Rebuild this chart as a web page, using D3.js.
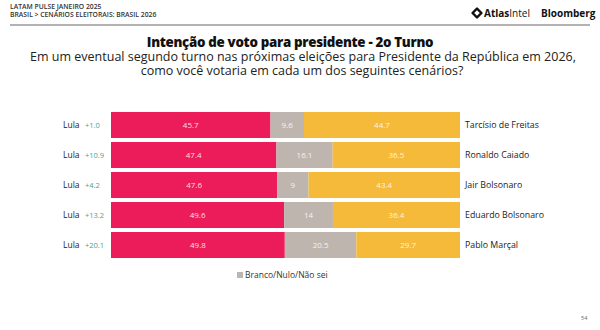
<!DOCTYPE html>
<html>
<head>
<meta charset="utf-8">
<script src="https://cdn.jsdelivr.net/npm/d3@7"></script>
<style>
  body { margin: 0; background: #fff; }
  svg { display: block; font-family: "Open Sans", sans-serif; }
</style>
</head>
<body>
<div id="chart"></div>
<script>
// chart data
const opponents = ['Tarcísio de Freitas', 'Ronaldo Caiado', 'Jair Bolsonaro', 'Eduardo Bolsonaro', 'Pablo Marçal'];
const lulaVotes = [45.7, 47.4, 47.6, 49.6, 49.8];
const blankVotes = [9.6, 16.1, 9, 14, 20.5];
const opponentVotes = [44.7, 36.5, 43.4, 36.4, 29.7];
const leads = ['+1.0', '+10.9', '+4.2', '+13.2', '+20.1'];

const width = 600, height = 330;
const colors = { lula: '#EC1C5B', blank: '#BFB5AF', opp: '#F6BA3B' };

const svg = d3.select('#chart').append('svg')
  .attr('width', width)
  .attr('height', height);

// header
svg.append('text').attr('x', 10).attr('y', 9)
  .style('font-size', '6.8px').style('font-weight', 600).attr('fill', '#333')
  .text('LATAM PULSE JANEIRO 2025');
svg.append('text').attr('x', 10).attr('y', 17)
  .style('font-size', '6.8px').style('font-weight', 600).attr('fill', '#333')
  .text('BRASIL > CENÁRIOS ELEITORAIS: BRASIL 2026');
svg.append('line').attr('x1', 10).attr('x2', 590).attr('y1', 25).attr('y2', 25)
  .attr('stroke', '#666').attr('stroke-width', 1);

// logos
const logo = svg.append('g').attr('transform', 'translate(477,13)');
logo.append('path')
  .attr('d', d3.symbol(d3.symbolSquare, 40)())
  .attr('transform', 'rotate(45)')
  .attr('fill', 'none').attr('stroke', '#111').attr('stroke-width', 2.4)
  .attr('stroke-linejoin', 'round');
logo.append('text').attr('x', 7).attr('y', 3.5)
  .style('font-size', '10px').attr('fill', '#111')
  .html('<tspan font-weight="700">Atlas</tspan><tspan font-weight="400">Intel</tspan>');
svg.append('text').attr('x', 541).attr('y', 16.5)
  .style('font-size', '10px').style('font-weight', 700).attr('fill', '#111')
  .text('Bloomberg');

// titles
svg.append('text').attr('x', 290).attr('y', 47).attr('text-anchor', 'middle')
  .style('font-size', '13.3px').style('font-weight', 800).attr('fill', '#111')
  .style('letter-spacing', '-0.3px')
  .text('Intenção de voto para presidente - 2o Turno');
svg.append('text').attr('x', 303).attr('y', 61).attr('text-anchor', 'middle')
  .style('font-size', '12.5px').attr('fill', '#222')
  .text('Em um eventual segundo turno nas próximas eleições para Presidente da República em 2026,');
svg.append('text').attr('x', 302).attr('y', 75).attr('text-anchor', 'middle')
  .style('font-size', '12.5px').attr('fill', '#222')
  .text('como você votaria em cada um dos seguintes cenários?');

// scales
const x = d3.scaleLinear().domain([0, 100]).range([111, 460]);
const y = d3.scaleBand().domain(opponents).range([110, 260]).paddingInner(0.133).paddingOuter(0.066);

const rows = opponents.map((name, i) => ({
  name, lead: leads[i],
  segs: [
    { key: 'lula', v: lulaVotes[i], x0: 0 },
    { key: 'blank', v: blankVotes[i], x0: lulaVotes[i] },
    { key: 'opp', v: opponentVotes[i], x0: lulaVotes[i] + blankVotes[i] }
  ]
}));

const row = svg.selectAll('.row').data(rows).enter().append('g')
  .attr('class', 'row')
  .attr('transform', d => `translate(0,${y(d.name)})`);

row.selectAll('rect').data(d => d.segs).enter().append('rect')
  .attr('x', d => x(d.x0))
  .attr('width', d => x(d.x0 + d.v) - x(d.x0))
  .attr('height', y.bandwidth())
  .attr('fill', d => colors[d.key]);

row.selectAll('.val').data(d => d.segs).enter().append('text')
  .attr('class', 'val')
  .attr('x', d => x(d.x0 + d.v / 2))
  .attr('y', y.bandwidth() / 2 + 3)
  .attr('text-anchor', 'middle')
  .style('font-size', '8px')
  .attr('fill', 'rgba(255,255,255,0.85)')
  .text(d => d.v);

row.append('text')
  .attr('x', 63).attr('y', y.bandwidth() / 2 + 3)
  .style('font-size', '8.5px').attr('fill', '#222')
  .text('Lula');
row.append('text')
  .attr('x', 85).attr('y', y.bandwidth() / 2 + 3)
  .style('font-size', '7.5px').attr('fill', '#3AA6A2')
  .text(d => d.lead);
row.append('text')
  .attr('x', 465).attr('y', y.bandwidth() / 2 + 3)
  .style('font-size', '8.8px').attr('fill', '#222')
  .text(d => d.name);

// legend
svg.append('rect').attr('x', 237).attr('y', 272).attr('width', 6).attr('height', 6)
  .attr('fill', colors.blank);
svg.append('text').attr('x', 245).attr('y', 278)
  .style('font-size', '8.5px').attr('fill', '#333')
  .text('Branco/Nulo/Não sei');

// page number
svg.append('text').attr('x', 581).attr('y', 320)
  .style('font-size', '5.5px').attr('fill', '#666')
  .text('54');
</script>
</body>
</html>
